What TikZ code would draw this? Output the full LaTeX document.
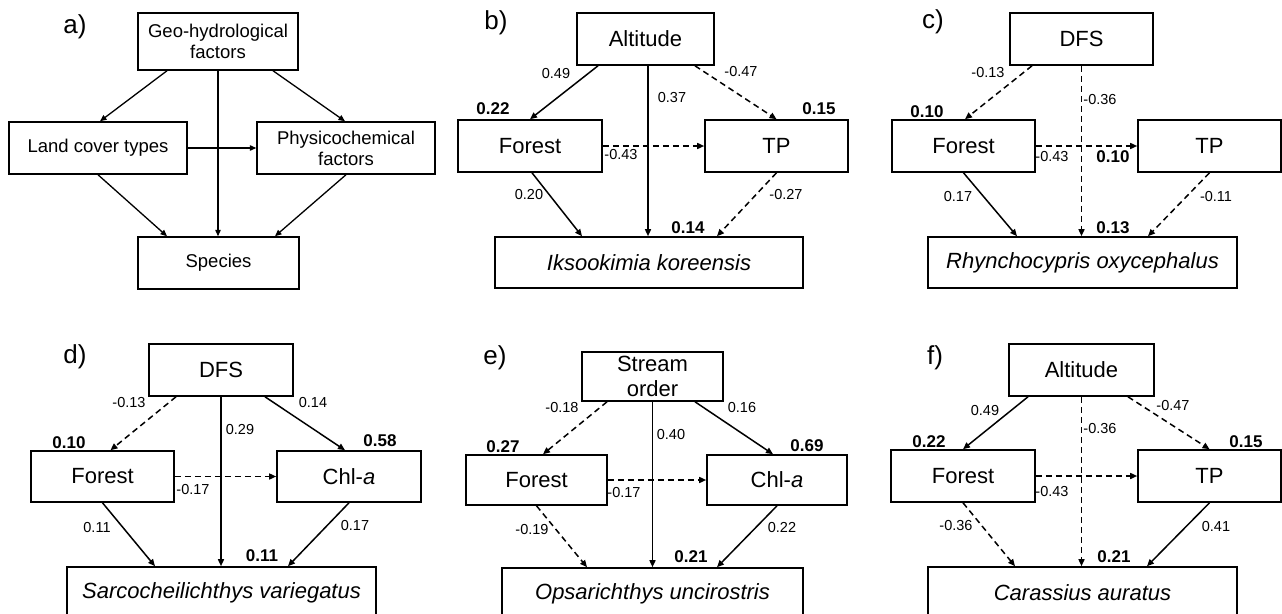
\documentclass[tikz,border=0pt]{standalone}
\usepackage{fontspec}
\setmainfont{Liberation Sans}
\usetikzlibrary{arrows.meta}
\tikzset{
 box/.style={draw, line width=1.6pt, inner sep=0pt, align=center, font=\fontsize{22}{25}\selectfont},
 abox/.style={draw, line width=1.5pt, inner sep=0pt, align=center, font=\fontsize{18.5}{21}\selectfont},
 coef/.style={inner sep=0pt, font=\fontsize{14.5}{16}\selectfont},
 rsq/.style={inner sep=0pt, font=\fontsize{17}{19}\selectfont\bfseries},
 plab/.style={inner sep=0pt, font=\fontsize{26}{28}\selectfont},
 arr/.style={-{Triangle[length=7pt,width=6pt]}, line width=1.5pt},
 aarr/.style={-{Triangle[length=6.5pt,width=5.5pt]}, line width=1.3pt},
 darr/.style={arr, dash pattern=on 6pt off 4pt},
}
\begin{document}
\begin{tikzpicture}[x=1pt,y=-1pt]
\useasboundingbox (0,0) rectangle (1282,613);
\fill[white] (0,0) rectangle (1282,613);

% ---------- panel a ----------
\node[plab] (la) at (75,27) {a)};
\node[abox, minimum width=160pt, minimum height=57pt] (ageo) at (218,41.5) {Geo-hydrological\\factors};
\node[abox, minimum width=178pt, minimum height=52pt] (aland) at (98,148) {Land cover types};
\node[abox, minimum width=178pt, minimum height=52pt] (aphys) at (346,148) {Physicochemical\\factors};
\node[abox, minimum width=161pt, minimum height=52pt] (asp) at (218.5,263) {Species};
\draw[aarr] ([xshift=-51pt]ageo.south) -- ([xshift=2pt]aland.north);
\draw[aarr] (ageo.south) -- (ageo.south |- asp.north);
\draw[aarr] ([xshift=55pt]ageo.south) -- ([xshift=-1pt]aphys.north);
\draw[aarr] (aland.east) -- (aphys.west);
\draw[aarr] (aland.south) -- ([xshift=-51.5pt]asp.north);
\draw[aarr] (aphys.south) -- ([xshift=56.5pt]asp.north);

% ---------- panel b ----------
\node[plab] (lb) at (496,23) {b)};
\node[box, minimum width=137pt, minimum height=52pt] (balt) at (645.5,39) {Altitude};
\node[box, minimum width=144pt, minimum height=52pt] (bfor) at (530,146) {Forest};
\node[box, minimum width=143pt, minimum height=52pt] (btp) at (776.5,146) {TP};
\node[box, minimum width=308pt, minimum height=51pt] (bsp) at (649,262.5) {\itshape Iksookimia koreensis};
\draw[arr] ([xshift=-47.5pt]balt.south) -- (bfor.north);
\draw[arr] ([xshift=2.5pt]balt.south) -- ([xshift=-1pt]bsp.north);
\draw[darr] ([xshift=49.5pt]balt.south) -- (btp.north);
\draw[darr] (bfor.east) -- (btp.west);
\draw[arr] ([xshift=2pt]bfor.south) -- ([xshift=-67pt]bsp.north);
\draw[darr] (btp.south) -- ([xshift=68pt]bsp.north);
\node[rsq] (br1) at (493,109) {0.22};
\node[rsq] (br2) at (819,109) {0.15};
\node[rsq] (br3) at (688,228) {0.14};
\node[coef] (bc1) at (556,74) {0.49};
\node[coef] (bc2) at (672,98) {0.37};
\node[coef] (bc3) at (741,72) {-0.47};
\node[coef] (bc4) at (621,155) {-0.43};
\node[coef] (bc5) at (529,195) {0.20};
\node[coef] (bc6) at (786,195) {-0.27};

% ---------- panel c ----------
\node[plab] (lc) at (933,22) {c)};
\node[box, minimum width=143pt, minimum height=52pt] (cdfs) at (1081.5,39) {DFS};
\node[box, minimum width=143pt, minimum height=52pt] (cfor) at (963.5,146) {Forest};
\node[box, minimum width=143pt, minimum height=52pt] (ctp) at (1209.5,146) {TP};
\node[box, minimum width=309pt, minimum height=51pt] (csp) at (1082.5,262.5) {\itshape Rhynchocypris oxycephalus};
\draw[darr] ([xshift=-49.5pt]cdfs.south) -- ([xshift=1.5pt]cfor.north);
\draw[darr] (cdfs.south) -- (cdfs.south |- csp.north);
\draw[darr] (cfor.east) -- (ctp.west);
\draw[arr] (cfor.south) -- ([xshift=-65.5pt]csp.north);
\draw[darr] (ctp.south) -- ([xshift=65.5pt]csp.north);
\node[rsq] (cr1) at (927,112) {0.10};
\node[rsq] (cr2) at (1113,157) {0.10};
\node[rsq] (cr3) at (1113,228) {0.13};
\node[coef] (cc1) at (988,73) {-0.13};
\node[coef] (cc2) at (1100,100) {-0.36};
\node[coef] (cc3) at (1052,157) {-0.43};
\node[coef] (cc4) at (958,197) {0.17};
\node[coef] (cc5) at (1216,197) {-0.11};

% ---------- panel d ----------
\node[plab] (ld) at (75,357) {d)};
\node[box, minimum width=144pt, minimum height=52pt] (ddfs) at (221,370) {DFS};
\node[box, minimum width=143pt, minimum height=51pt] (dfor) at (102.5,476.5) {Forest};
\node[box, minimum width=144pt, minimum height=51pt] (dchl) at (349,476.5) {Chl-\textit{a}};
\node[box, minimum width=309pt, minimum height=51pt] (dsp) at (221.5,592.5) {\itshape Sarcocheilichthys variegatus};
\draw[darr] ([xshift=-45pt]ddfs.south) -- ([xshift=8pt]dfor.north);
\draw[arr] (ddfs.south) -- (ddfs.south |- dsp.north);
\draw[arr] ([xshift=44pt]ddfs.south) -- ([xshift=-4pt]dchl.north);
\draw[darr] (dfor.east) -- (dchl.west);
\draw[arr] (dfor.south) -- ([xshift=-66.5pt]dsp.north);
\draw[arr] (dchl.south) -- ([xshift=66.5pt]dsp.north);
\node[rsq] (dr1) at (69,443) {0.10};
\node[rsq] (dr2) at (380,441) {0.58};
\node[rsq] (dr3) at (262,556) {0.11};
\node[coef] (dc1) at (129,403) {-0.13};
\node[coef] (dc2) at (313,403) {0.14};
\node[coef] (dc3) at (240,430) {0.29};
\node[coef] (dc4) at (193,490) {-0.17};
\node[coef] (dc5) at (97,528) {0.11};
\node[coef] (dc6) at (355,526) {0.17};

% ---------- panel e ----------
\node[plab] (le) at (495,358) {e)};
\node[box, minimum width=141pt, minimum height=49pt] (eso) at (652.5,376.5) {Stream\\order};
\node[box, minimum width=141pt, minimum height=50pt] (efor) at (536.5,480) {Forest};
\node[box, minimum width=140pt, minimum height=50pt] (echl) at (777,480) {Chl-\textit{a}};
\node[box, minimum width=301pt, minimum height=51pt] (esp) at (652.5,593.5) {\itshape Opsarichthys uncirostris};
\draw[darr] ([xshift=-45.5pt]eso.south) -- ([xshift=6.5pt]efor.north);
\draw[arr] (eso.south) -- (eso.south |- esp.north);
\draw[arr] ([xshift=42.5pt]eso.south) -- ([xshift=-4pt]echl.north);
\draw[darr] (efor.east) -- (echl.west);
\draw[darr] (efor.south) -- ([xshift=-65.5pt]esp.north);
\draw[arr] (echl.south) -- ([xshift=64.5pt]esp.north);
\node[rsq] (er1) at (503,447) {0.27};
\node[rsq] (er2) at (807,446) {0.69};
\node[rsq] (er3) at (691,557) {0.21};
\node[coef] (ec1) at (562,408) {-0.18};
\node[coef] (ec2) at (742,408) {0.16};
\node[coef] (ec3) at (671,435) {0.40};
\node[coef] (ec4) at (624,493) {-0.17};
\node[coef] (ec5) at (532,530) {-0.19};
\node[coef] (ec6) at (782,528) {0.22};

% ---------- panel f ----------
\node[plab] (lf) at (935,358) {f)};
\node[box, minimum width=145pt, minimum height=52pt] (falt) at (1081.5,370) {Altitude};
\node[box, minimum width=144pt, minimum height=52pt] (ffor) at (963,476) {Forest};
\node[box, minimum width=143pt, minimum height=52pt] (ftp) at (1209.5,476) {TP};
\node[box, minimum width=309pt, minimum height=51pt] (fsp) at (1082.5,592.5) {\itshape Carassius auratus};
\draw[arr] ([xshift=-53.5pt]falt.south) -- (ffor.north);
\draw[darr] (falt.south) -- (falt.south |- fsp.north);
\draw[darr] ([xshift=46.5pt]falt.south) -- (ftp.north);
\draw[darr] (ffor.east) -- (ftp.west);
\draw[darr] (ffor.south) -- ([xshift=-67.5pt]fsp.north);
\draw[arr] (ftp.south) -- ([xshift=64.5pt]fsp.north);
\node[rsq] (fr1) at (929,442) {0.22};
\node[rsq] (fr2) at (1246,442) {0.15};
\node[rsq] (fr3) at (1114,557) {0.21};
\node[coef] (fc1) at (985,411) {0.49};
\node[coef] (fc2) at (1100,429) {-0.36};
\node[coef] (fc3) at (1173,406) {-0.47};
\node[coef] (fc4) at (1052,492) {-0.43};
\node[coef] (fc5) at (956,526) {-0.36};
\node[coef] (fc6) at (1216,527) {0.41};
\end{tikzpicture}
\end{document}
